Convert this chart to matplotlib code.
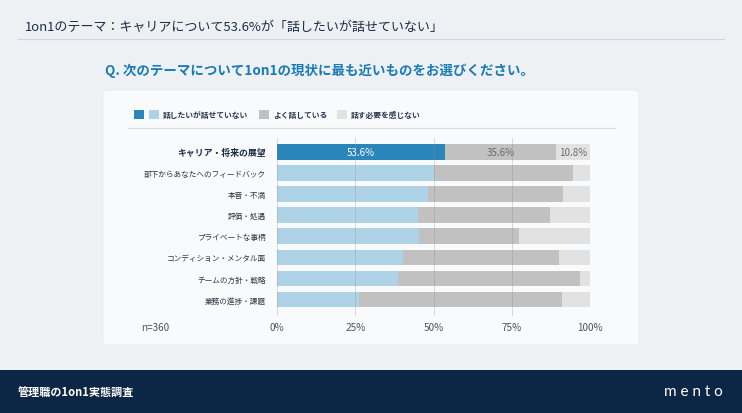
import matplotlib
matplotlib.use("Agg")
import matplotlib.pyplot as plt
from matplotlib.patches import FancyBboxPatch, Rectangle
from matplotlib.lines import Line2D

plt.rcParams['font.family'] = ['Noto Sans CJK JP', 'DejaVu Sans']

categories = ['キャリア・将来の展望', '部下からあなたへのフィードバック', '本音・不満', '評価・処遇',
              'プライベートな事柄', 'コンディション・メンタル面', 'チームの方針・戦略', '業務の進捗・課題']
want = [53.6, 50.1, 48.3, 45.2, 45.3, 40.2, 38.8, 26.3]     # 話したいが話せていない
talk = [35.6, 44.5, 43.2, 42.1, 32.1, 49.8, 57.9, 64.9]     # よく話している
noneed = [10.8, 5.4, 8.5, 12.7, 22.6, 10.0, 3.3, 8.8]      # 話す必要を感じない
legend_labels = ['話したいが話せていない', 'よく話している', '話す必要を感じない']
xticks = [0, 25, 50, 75, 100]
xticklabels = ['0%', '25%', '50%', '75%', '100%']

W, H = 742, 414
c_dark = '#2a86ba'
c_light = '#aed3e7'
c_gray = '#c1c1c1'
c_lgray = '#e2e2e2'
navy = '#0c2646'

def fx(x):
    return x / W

def fy(y):
    return 1 - y / H

fig = plt.figure(figsize=(W / 100, H / 100), dpi=100)
fig.patch.set_facecolor('#edf1f4')

# header
fig.text(fx(25), fy(27), '1on1のテーマ：キャリアについて53.6%が「話したいが話せていない」',
         fontsize=9.4, color='#1c2c45', va='center', ha='left')
fig.add_artist(Line2D([fx(18), fx(724)], [fy(40), fy(40)], color='#cfd5da', lw=0.8))
fig.text(fx(105), fy(71), 'Q. 次のテーマについて1on1の現状に最も近いものをお選びください。',
         fontsize=9.7, fontweight='bold', color='#1b7ab4', va='center', ha='left')

# white card
card = FancyBboxPatch((fx(103), fy(346)), fx(639) - fx(103), fy(91) - fy(346),
                      boxstyle='round,pad=0,rounding_size=0.008', transform=fig.transFigure,
                      facecolor='#f8fafb', edgecolor='#e6ebee', lw=0.6, zorder=-5)
fig.add_artist(card)

# legend
def sq(x, color):
    fig.add_artist(Rectangle((fx(x), fy(120)), 10 / W, 9 / H, transform=fig.transFigure,
                             facecolor=color, edgecolor='none'))

sq(134, c_dark)
sq(149, c_light)
fig.text(fx(163), fy(115.5), legend_labels[0], fontsize=5.6, fontweight='bold', color='#2b3550', va='center')
sq(259, c_gray)
fig.text(fx(273), fy(115.5), legend_labels[1], fontsize=5.6, fontweight='bold', color='#2b3550', va='center')
sq(337, c_lgray)
fig.text(fx(351), fy(115.5), legend_labels[2], fontsize=5.6, fontweight='bold', color='#2b3550', va='center')
fig.add_artist(Line2D([fx(128), fx(615)], [fy(129), fy(129)], color='#d9dde0', lw=0.8))

# chart
ax = fig.add_axes([fx(277), fy(317), fx(590) - fx(277), fy(139) - fy(317)])
ax.set_zorder(5)
ax.set_facecolor('none')
y = list(range(len(categories)))
left2 = [a for a in want]
left3 = [a + b for a, b in zip(want, talk)]
want_colors = [c_dark] + [c_light] * (len(categories) - 1)
ax.barh(y, want, height=0.74, color=want_colors, zorder=2)
ax.barh(y, talk, left=left2, height=0.74, color=c_gray, zorder=2)
ax.barh(y, noneed, left=left3, height=0.74, color=c_lgray, zorder=2)

for xt in xticks:
    ax.axvline(xt, color='#8a8a8a', lw=0.7, alpha=0.3, zorder=3)

ax.text(want[0] / 2, 0, f'{want[0]}%', color='white', fontsize=7, ha='center', va='center', zorder=4)
ax.text(left2[0] + talk[0] / 2, 0, f'{talk[0]}%', color='#6b6b6b', fontsize=7, ha='center', va='center', zorder=4)
ax.text(left3[0] + noneed[0] / 2, 0, f'{noneed[0]}%', color='#6b6b6b', fontsize=7, ha='center', va='center', zorder=4)

ax.set_xlim(0, 100)
ax.set_ylim(7.78, -0.66)
ax.set_xticks(xticks, xticklabels)
ax.set_yticks(y, categories)
ax.tick_params(axis='x', length=0, pad=4.5, labelsize=7.2, labelcolor='#4a5560')
ax.tick_params(axis='y', length=0, pad=8, labelsize=5.5, labelcolor='#2f3540')
labels = ax.get_yticklabels()
labels[0].set_fontsize(6.4)
labels[0].set_fontweight('bold')
labels[0].set_color('#1c2c45')
for s in ax.spines.values():
    s.set_visible(False)

fig.text(fx(155), fy(328), 'n=360', fontsize=7.2, color='#4a5560', ha='center', va='center')

# footer
fig.add_artist(Rectangle((0, 0), 1, fy(371), transform=fig.transFigure, facecolor=navy, edgecolor='none'))
fig.text(fx(18), fy(393), '管理職の1on1実態調査', fontsize=8, color='white', va='center', ha='left',
         fontweight='bold')
fig.text(fx(723), fy(392), 'm e n t o', fontsize=11, color='white', va='center', ha='right',
         family=['Lato', 'DejaVu Sans'])

fig.savefig('out.png', dpi=100, facecolor=fig.get_facecolor())
